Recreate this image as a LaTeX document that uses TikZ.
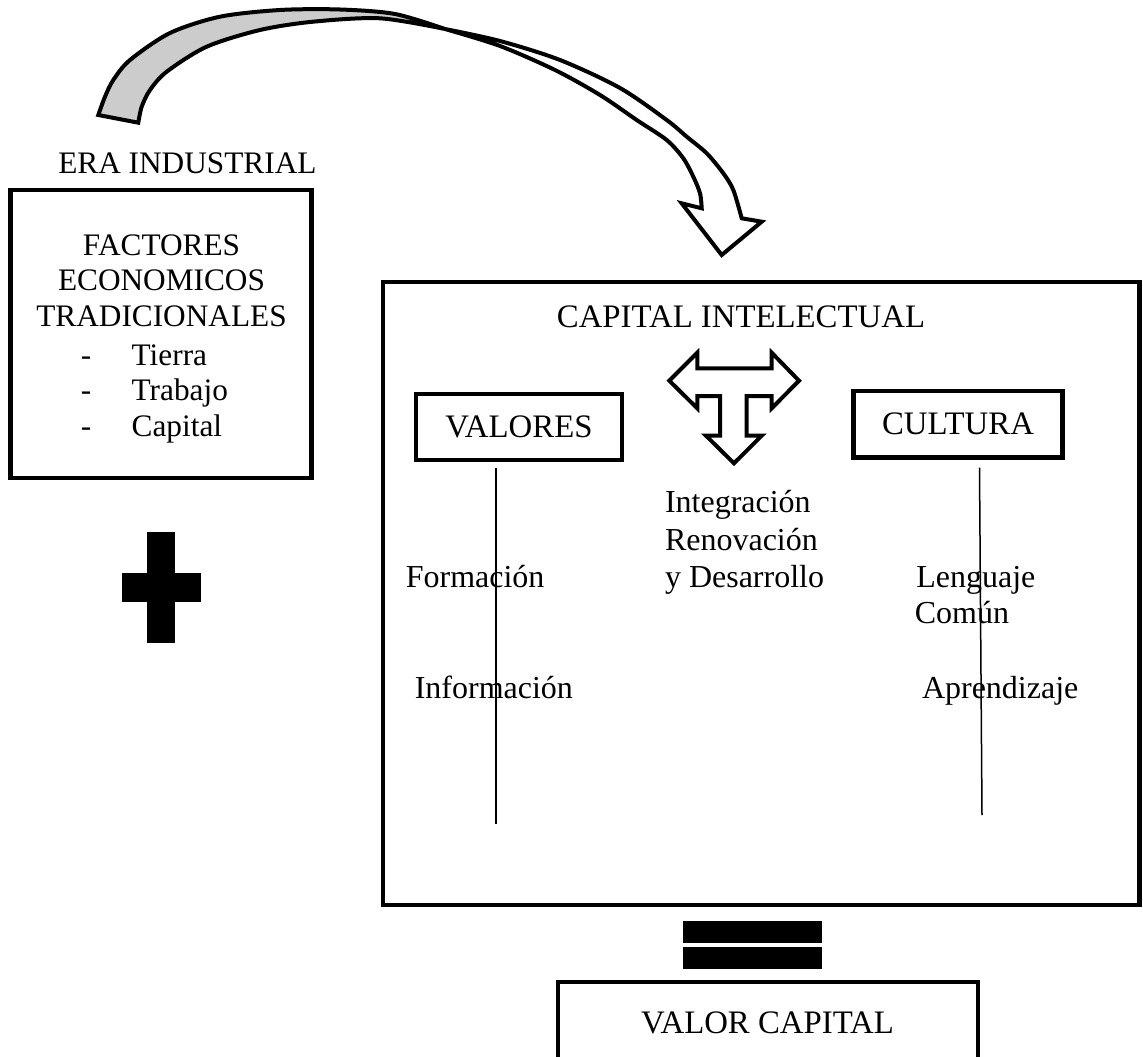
\documentclass[tikz,border=0pt]{standalone}
\usepackage{fontspec}
\setmainfont{Liberation Serif}
\begin{document}
\begin{tikzpicture}[x=1pt,y=-1pt,
  thickbox/.style={draw=black,line width=4.5pt,outer sep=0pt,inner sep=0pt},
  blockarrow/.style={draw=black,line width=4pt,line join=miter},
  thinline/.style={draw=black,line width=1.5pt},
  lbl/.style={inner sep=0pt,outer sep=0pt,font=\fontsize{32}{38}\selectfont},
  lblbig/.style={inner sep=0pt,outer sep=0pt,font=\fontsize{32.8}{38}\selectfont},
  lblsm/.style={inner sep=0pt,outer sep=0pt,font=\fontsize{31.3}{36}\selectfont},
]
\clip (0,0) rectangle (1143,1057);
\fill[white] (0,0) rectangle (1143,1057);

% curved block arrow: white front part ending in the head
\filldraw[blockarrow,fill=white]
  plot[smooth] coordinates {(445,29) (500,41) (560,60) (620,88) (666.7,120) (686.7,136.7) (706.7,153.3) (723.3,173.3) (733.3,190) (741.7,218.3)}
  -- (761.7,221.7) -- (721.7,255) -- (681.7,203.3)
  -- plot[smooth] coordinates {(701.7,208.3) (700,193.3) (693.3,176.7) (683.3,158.3) (666.7,140) (636.7,120) (600,95) (555,70) (500,46) (445,29)}
  -- cycle;
% curved block arrow: grey back part at the tail
\filldraw[blockarrow,fill=black!20]
  plot[smooth] coordinates {(98.3,115) (105,96.7) (113.3,80) (130,60) (170,33) (220,16.7) (280,10) (340,9.5) (395,14) (445,29)}
  -- plot[smooth] coordinates {(445,29) (380,18.3) (313,21.7) (260,30) (206.7,46.7) (166.7,71.7) (150,90) (141.7,106.7) (138.3,122.7)}
  -- cycle;

% left block
\node[lblsm,anchor=base east] (era) at (316.5,173) {ERA INDUSTRIAL};
\node[thickbox,minimum width=301,minimum height=288] (factbox) at (161,334) {};
\node[lblsm,anchor=base] (f1) at (161.5,255) {FACTORES};
\node[lblsm,anchor=base] (f2) at (161.5,290.5) {ECONOMICOS};
\node[lblsm,anchor=base] (f3) at (161.5,326.5) {TRADICIONALES};
\node[lblsm,anchor=base] (d1) at (86,365) {-};
\node[lblsm,anchor=base] (d2) at (86,400.5) {-};
\node[lblsm,anchor=base] (d3) at (86,436) {-};
\node[lblsm,anchor=base west] (tierra) at (131.7,365) {Tierra};
\node[lblsm,anchor=base west] (trabajo) at (131.7,400.5) {Trabajo};
\node[lblsm,anchor=base west] (capital) at (131.7,436) {Capital};

% plus sign
\fill[black] (147.3,531.7) rectangle (175,642.7);
\fill[black] (121.7,573.3) rectangle (201,602);

% intellectual capital block
\node[thickbox,minimum width=756.5,minimum height=623] (capbox) at (761.25,593.5) {};
\node[lblbig,anchor=base] (captitle) at (741,327.5) {CAPITAL INTELECTUAL};
\node[thickbox,lblbig,minimum width=206,minimum height=66] (valores) at (519,427) {VALORES};
\node[thickbox,lblbig,minimum width=209,minimum height=66.4] (cultura) at (958,424.2) {CULTURA};

% T-shaped three-way arrow
\filldraw[blockarrow,fill=white]
  (669.3,380.7) -- (697.3,352.7) -- (697.3,368.3) -- (771.7,368.3) -- (771.7,352.7)
  -- (799,380.7) -- (771.7,408.3) -- (771.7,396) -- (746.7,396) -- (746.7,435.7)
  -- (761.7,435.7) -- (734,463.3) -- (706,435.7) -- (720,435.7) -- (720,396)
  -- (697.3,396) -- (697.3,408.3) -- cycle;

\node[lbl,anchor=base west] (integ) at (665,512) {Integración};
\node[lbl,anchor=base west] (renov) at (665,550) {Renovación};
\node[lbl,anchor=base west] (desarr) at (665,587.5) {y Desarrollo};

\node[lbl,anchor=base west] (formacion) at (405.8,587.5) {Formación};
\node[lbl,anchor=base west] (informacion) at (414.8,698.6) {Información};
\node[lbl,anchor=base west] (lenguaje) at (916.3,587.5) {Lenguaje};
\node[lbl,anchor=base west] (comun) at (914.8,623) {Común};
\node[lbl,anchor=base west] (aprend) at (922,698.6) {Aprendizaje};

% thin vertical rules under the two boxes
\coordinate (vl1) at (495.9,467.7);
\coordinate (vl2) at (495.9,824.4);
\coordinate (vr1) at (979.5,467.7);
\coordinate (vr2) at (982,815);
\draw[thinline] (vl1) -- (vl2);
\draw[thinline] (vr1) -- (vr2);

% equals sign
\fill[black] (683.3,920.7) rectangle (821.7,942.7);
\fill[black] (683.3,946.7) rectangle (821.7,969.3);

% resulting value block
\draw[draw=black,line width=4.5pt] (558,1080) -- (558,982) -- (978,982) -- (978,1080);
\node[lblbig,anchor=base] (valcap) at (767.5,1033) {VALOR CAPITAL};
\end{tikzpicture}
\end{document}
